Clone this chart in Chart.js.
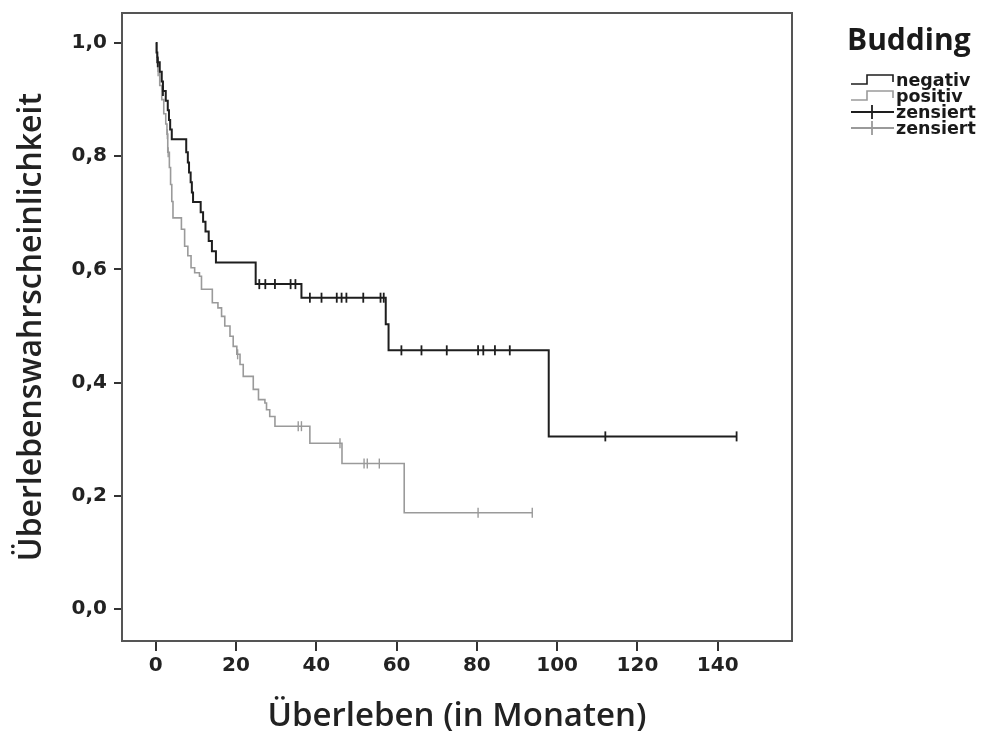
<!DOCTYPE html>
<html>
<head>
<meta charset="utf-8">
<script src="https://cdn.jsdelivr.net/npm/chart.js@4.4.0/dist/chart.umd.min.js"></script>
<style>
  html, body { margin: 0; padding: 0; background: #fff; }
  #wrap { width: 985px; height: 731px; }
</style>
</head>
<body>
<div id="wrap"><canvas id="km"></canvas></div>
<script>
// Kaplan-Meier: Budding negativ / positiv
const negTimes = [0, 0.2, 0.4, 1.0, 1.5, 1.8, 2.5, 3.0, 3.3, 3.6, 4.0, 7.6, 8.0, 8.3, 8.7, 9.0, 9.3,
  11.2, 11.8, 12.4, 13.2, 14.0, 15.0, 24.9, 36.3, 57.3, 58.0, 97.9];
const negSurv = [1.0, 0.983, 0.966, 0.949, 0.932, 0.915, 0.898, 0.881, 0.864, 0.847, 0.830, 0.807, 0.789, 0.771, 0.754, 0.736, 0.719,
  0.701, 0.684, 0.667, 0.650, 0.632, 0.612, 0.574, 0.550, 0.503, 0.457, 0.305];
const negCensored = [0.5, 1.8, 25.8, 27.3, 29.7, 33.6, 34.8, 38.4, 41.3, 45.1, 46.3, 47.5, 51.7, 56.0, 56.8,
  61.2, 66.2, 72.5, 80.3, 81.6, 84.5, 88.2, 112.0, 144.7];

const posTimes = [0, 0.3, 0.6, 1.0, 1.5, 2.0, 2.5, 2.8, 3.0, 3.4, 3.7, 4.0, 4.3, 6.4, 7.2, 8.0, 8.8, 9.7, 10.9,
  11.4, 14.1, 15.5, 16.4, 17.2, 18.5, 19.3, 20.2, 21.0, 21.8, 24.3, 25.6, 27.2, 27.6, 28.4, 29.7, 38.4, 46.4, 61.9];
const posSurv = [1.0, 0.975, 0.950, 0.925, 0.900, 0.875, 0.857, 0.839, 0.807, 0.780, 0.750, 0.720, 0.691, 0.671, 0.641, 0.624, 0.603, 0.594, 0.588,
  0.565, 0.541, 0.532, 0.517, 0.500, 0.482, 0.464, 0.450, 0.432, 0.411, 0.388, 0.370, 0.364, 0.352, 0.340, 0.323, 0.293, 0.257, 0.170];
const posCensored = [0.6, 2.9, 3.1, 20.4, 35.5, 36.3, 45.9, 51.9, 52.7, 55.7, 80.3, 93.8];

const xTicks = [0, 20, 40, 60, 80, 100, 120, 140];
const yTicks = [0, 0.2, 0.4, 0.6, 0.8, 1.0];

const groups = ['negativ', 'positiv'];
const groupColors = ['#1e1e1e', '#9a9a9a'];

// survival at time t from a step curve
function survAt(times, surv, t) {
  let s = surv[0];
  for (let i = 0; i < times.length; i++) {
    if (times[i] <= t) s = surv[i];
  }
  return s;
}

function curve(times, surv, censored) {
  const pts = times.map((t, i) => ({ x: t, y: surv[i] }));
  const end = Math.max(...censored);
  if (end > times[times.length - 1]) pts.push({ x: end, y: surv[surv.length - 1] });
  return pts;
}

function marks(times, surv, censored) {
  return censored.map(t => ({ x: t, y: survAt(times, surv, t) }));
}

const frame = {
  id: 'frame',
  afterDraw(chart) {
    const { ctx, chartArea: a } = chart;
    ctx.save();
    ctx.strokeStyle = '#555';
    ctx.lineWidth = 2;
    ctx.strokeRect(a.left, a.top, a.right - a.left, a.bottom - a.top);
    ctx.restore();
  }
};

const sideLegend = {
  id: 'sideLegend',
  afterDraw(chart) {
    const ctx = chart.ctx;
    ctx.save();
    ctx.fillStyle = '#1a1a1a';
    ctx.textBaseline = 'alphabetic';
    ctx.font = '700 30px "Open Sans"';
    ctx.fillText('Budding', 847, 50);
    ctx.font = 'bold 17.5px "DejaVu Sans"';
    const rows = [
      { text: groups[0], color: groupColors[0], kind: 'step' },
      { text: groups[1], color: groupColors[1], kind: 'step' },
      { text: 'zensiert', color: groupColors[0], kind: 'cross' },
      { text: 'zensiert', color: groupColors[1], kind: 'cross' }
    ];
    rows.forEach((r, i) => {
      const y = 80 + i * 16;
      ctx.strokeStyle = r.color;
      ctx.lineWidth = r.kind === 'step' ? 1.6 : 1.8;
      ctx.beginPath();
      if (r.kind === 'step') {
        ctx.moveTo(851, y + 4); ctx.lineTo(867, y + 4); ctx.lineTo(867, y - 5);
        ctx.lineTo(893, y - 5); ctx.lineTo(893, y + 2);
      } else {
        ctx.moveTo(851, y); ctx.lineTo(894, y);
        ctx.moveTo(872, y - 7); ctx.lineTo(872, y + 7);
      }
      ctx.stroke();
      ctx.fillStyle = '#1a1a1a';
      ctx.fillText(r.text, 896, y + 6);
    });
    ctx.restore();
  }
};

const ctx = document.getElementById('km').getContext('2d');

new Chart(ctx, {
  type: 'scatter',
  data: {
    datasets: [
      {
        label: groups[0],
        data: curve(negTimes, negSurv, negCensored),
        showLine: true, stepped: 'before',
        borderColor: groupColors[0], borderWidth: 2,
        pointRadius: 0, order: 2
      },
      {
        label: groups[1],
        data: curve(posTimes, posSurv, posCensored),
        showLine: true, stepped: 'before',
        borderColor: groupColors[1], borderWidth: 1.6,
        pointRadius: 0, order: 3
      },
      {
        label: 'zensiert',
        data: marks(negTimes, negSurv, negCensored),
        pointStyle: 'line', rotation: 90, pointRadius: 5,
        borderColor: groupColors[0], borderWidth: 1.8, order: 0
      },
      {
        label: 'zensiert',
        data: marks(posTimes, posSurv, posCensored),
        pointStyle: 'line', rotation: 90, pointRadius: 5,
        borderColor: groupColors[1], borderWidth: 1.4, order: 1
      }
    ]
  },
  options: {
    responsive: true,
    maintainAspectRatio: false,
    animation: false,
    layout: { padding: { top: 13, right: 193, left: 0, bottom: 0 } },
    plugins: {
      legend: { display: false },
      tooltip: { enabled: false }
    },
    scales: {
      x: {
        type: 'linear',
        min: -8.4,
        max: 158.5,
        afterBuildTicks: s => { s.ticks = xTicks.map(v => ({ value: v })); },
        afterFit: s => { s.height = 90; s.paddingLeft = 0; s.paddingRight = 0; },
        grid: { drawOnChartArea: false, drawTicks: true, tickLength: 10, color: '#333', lineWidth: 2 },
        border: { display: true, color: '#555', width: 2 },
        ticks: {
          color: '#222', padding: 3,
          font: { family: 'DejaVu Sans', weight: 'bold', size: 20 }
        },
        title: {
          display: true, text: 'Überleben (in Monaten)', color: '#222',
          font: { family: 'Open Sans', weight: '600', size: 33, lineHeight: 0.9 },
          padding: 0
        }
      },
      y: {
        type: 'linear',
        min: -0.0565,
        max: 1.053,
        afterBuildTicks: s => { s.ticks = yTicks.map(v => ({ value: v })); },
        afterFit: s => { s.width = 122; s.paddingTop = 0; s.paddingBottom = 0; },
        grid: { drawOnChartArea: false, drawTicks: true, tickLength: 8, color: '#333', lineWidth: 2 },
        border: { display: true, color: '#555', width: 2 },
        ticks: {
          color: '#222', padding: 7,
          font: { family: 'DejaVu Sans', weight: 'bold', size: 20 },
          callback: v => v.toFixed(1).replace('.', ',')
        },
        title: {
          display: true, text: 'Überlebenswahrscheinlichkeit', color: '#222',
          font: { family: 'Open Sans', weight: '600', size: 32, lineHeight: 1.2 },
          padding: { top: 13, bottom: 0 }
        }
      }
    }
  },
  plugins: [frame, sideLegend]
});
</script>
</body>
</html>
